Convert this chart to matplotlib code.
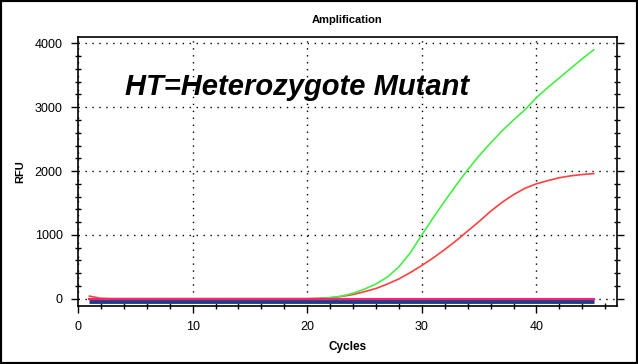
import matplotlib
matplotlib.use("Agg")
import matplotlib.pyplot as plt
from matplotlib.ticker import MultipleLocator
from matplotlib.patches import Rectangle

cycles = list(range(1, 46))
green = [0]*20 + [5, 15, 40, 85, 150, 230, 340, 500, 720, 1000, 1270, 1530, 1780, 2020,
                  2240, 2440, 2630, 2800, 2960, 3150, 3310, 3460, 3610, 3760, 3900]
red = [40, 5] + [0]*18 + [5, 15, 35, 65, 110, 160, 230, 310, 410, 520, 640, 770, 910, 1060,
                          1210, 1370, 1510, 1630, 1730, 1800, 1850, 1895, 1925, 1945, 1960]
blue_base = [-35]*45
pink_base = [0]*45
red_base = [-10]*45

plt.rcParams['font.family'] = ['Liberation Sans', 'DejaVu Sans']
fig = plt.figure(figsize=(6.38, 3.64), dpi=100)
ax = fig.add_axes([0.1223, 0.1602, 0.9666 - 0.1223, 0.8992 - 0.1602])

ax.plot(cycles, blue_base, color='#1a3f8a', lw=3.5, solid_capstyle='butt', zorder=3)
ax.plot(cycles, red_base, color='#ff3030', lw=1, zorder=3)
ax.plot(cycles, red, color='#ff4040', lw=1.2, zorder=5)
ax.plot(cycles, green, color='#44ee44', lw=1.2, zorder=5)
ax.plot(cycles, pink_base, color='#ff1f78', lw=1.5, zorder=6)

ax.set_xlim(0, 47)
ax.set_ylim(-110, 4105)
ax.xaxis.set_major_locator(MultipleLocator(10))
ax.xaxis.set_minor_locator(MultipleLocator(2))
ax.yaxis.set_major_locator(MultipleLocator(1000))
ax.yaxis.set_minor_locator(MultipleLocator(200))
ax.grid(True, which='major', color='black', linestyle=(0, (1, 4)), linewidth=1)
ax.tick_params(which='major', direction='out', length=5, width=1, labelsize=9, pad=6)
ax.tick_params(which='minor', direction='inout', length=5, width=1)
ax.tick_params(which='both', top=True, right=True)
ax.tick_params(axis='x', which='both', top=False)
for s in ax.spines.values():
    s.set_linewidth(1.2)

ax.set_title('Amplification', fontsize=8, fontweight='bold', pad=10)
ax.set_xlabel('Cycles', fontsize=8.5, fontweight='bold', labelpad=6)
ax.set_ylabel('RFU', fontsize=8, fontweight='bold', labelpad=7)

ax.text(0.087, 0.813, 'HT=Heterozygote Mutant', transform=ax.transAxes,
        fontsize=21, fontweight='bold', fontstyle='italic', va='center', ha='left')

fig.patches.append(Rectangle((0, 0), 1, 1, transform=fig.transFigure, fill=False,
                             edgecolor='black', linewidth=3, zorder=10))

fig.savefig('out.png', dpi=100)
